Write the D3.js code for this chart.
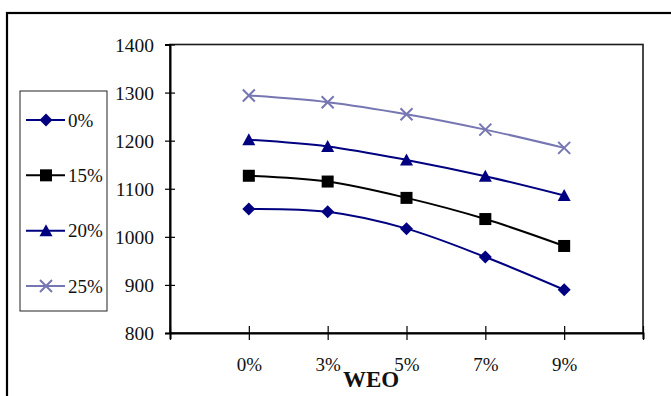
<!DOCTYPE html>
<html>
<head>
<meta charset="utf-8">
<script src="https://cdn.jsdelivr.net/npm/d3@7"></script>
<style>
  html, body { margin: 0; padding: 0; background: #fff; }
  svg { display: block; }
  text { font-family: "Liberation Serif", "Times New Roman", serif; fill: #111; }
</style>
</head>
<body>
<svg id="chart" width="671" height="396"></svg>
<script>
// WEO levels on the x axis
const categories = ["0%", "3%", "5%", "7%", "9%"];
// series names
const seriesNames = ["0%", "15%", "20%", "25%"];
// values per series, one per WEO level
const values0  = [1058, 1052, 1017, 958, 890];
const values15 = [1127, 1115, 1081, 1037, 981];
const values20 = [1202, 1188, 1160, 1126, 1086];
const values25 = [1294, 1280, 1255, 1223, 1185];
const yTicks = [800, 900, 1000, 1100, 1200, 1300, 1400];
const xTitle = "WEO";

const seriesValues = [values0, values15, values20, values25];
const colors = ["#000080", "#000000", "#000080", "#7676B2"];
const markerTypes = ["diamond", "square", "triangle", "cross"];

const svg = d3.select("#chart");

// outer frame (only top and left edges fall inside the view)
svg.append("rect")
  .attr("x", 7).attr("y", 13).attr("width", 700).attr("height", 420)
  .attr("fill", "none").attr("stroke", "#000").attr("stroke-width", 2.2);

const plot = { left: 170, right: 643, top: 44.5, bottom: 333 };

const x = d3.scaleLinear().domain([-1, categories.length]).range([plot.left, plot.right]);
const y = d3.scaleLinear().domain([800, 1400]).range([plot.bottom, plot.top]);

// plot area frame
svg.append("rect")
  .attr("x", plot.left).attr("y", plot.top)
  .attr("width", plot.right - plot.left).attr("height", plot.bottom - plot.top)
  .attr("fill", "none").attr("stroke", "#1a1a1a").attr("stroke-width", 1.6);

// y axis
const yAxis = svg.append("g")
  .attr("transform", `translate(${plot.left},0)`)
  .call(d3.axisLeft(y).tickValues(yTicks).tickFormat(d3.format("d")).tickSize(5).tickPadding(11));
yAxis.select(".domain").attr("stroke", "#000").attr("stroke-width", 2);
yAxis.selectAll(".tick line").attr("x1", 5).attr("x2", -5).attr("stroke", "#000").attr("stroke-width", 1.2);
yAxis.selectAll(".tick text")
  .attr("font-size", 19.5).attr("font-family", "Liberation Serif").attr("fill", "#222")
  .attr("dy", "0.34em");

// x axis
const xAxis = svg.append("g")
  .attr("transform", `translate(0,${plot.bottom})`)
  .call(d3.axisBottom(x)
    .tickValues(d3.range(-1, categories.length + 1))
    .tickFormat(i => categories[i] || "")
    .tickSize(6).tickPadding(19));
xAxis.select(".domain").attr("stroke", "#000").attr("stroke-width", 2);
xAxis.selectAll(".tick line").attr("y1", -7).attr("y2", 7).attr("stroke", "#000").attr("stroke-width", 1.2);
xAxis.selectAll(".tick text")
  .attr("font-size", 19).attr("font-family", "Liberation Serif").attr("fill", "#222");

// x axis title
svg.append("text")
  .attr("x", 371).attr("y", 387)
  .attr("text-anchor", "middle")
  .attr("font-size", 23).attr("font-weight", "bold")
  .attr("fill", "#000")
  .text(xTitle);

// marker drawing
function drawMarker(g, type, color, cx, cy) {
  if (type === "diamond") {
    const r = 6.5;
    g.append("path")
      .attr("d", `M${cx},${cy - r}L${cx + r},${cy}L${cx},${cy + r}L${cx - r},${cy}Z`)
      .attr("fill", color);
  } else if (type === "square") {
    const s = 12;
    g.append("rect").attr("x", cx - s / 2).attr("y", cy - s / 2)
      .attr("width", s).attr("height", s).attr("fill", color);
  } else if (type === "triangle") {
    const r = 6.5;
    g.append("path")
      .attr("d", `M${cx},${cy - r}L${cx + r},${cy + r * 0.85}L${cx - r},${cy + r * 0.85}Z`)
      .attr("fill", color);
  } else {
    const r = 6;
    g.append("path")
      .attr("d", `M${cx - r},${cy - r}L${cx + r},${cy + r}M${cx - r},${cy + r}L${cx + r},${cy - r}`)
      .attr("stroke", color).attr("stroke-width", 2).attr("fill", "none");
  }
}

// smoothed series lines and markers
const line = d3.line()
  .x((d, i) => x(i))
  .y(d => y(d))
  .curve(d3.curveCatmullRom.alpha(0.5));

seriesValues.forEach((vals, s) => {
  const g = svg.append("g");
  g.append("path")
    .attr("d", line(vals))
    .attr("fill", "none")
    .attr("stroke", colors[s])
    .attr("stroke-width", 2);
  vals.forEach((v, i) => drawMarker(g, markerTypes[s], colors[s], x(i), y(v)));
});

// legend
const legend = svg.append("g");
legend.append("rect")
  .attr("x", 20).attr("y", 91).attr("width", 87).attr("height", 220)
  .attr("fill", "#fff").attr("stroke", "#222").attr("stroke-width", 1);

const legendY = d3.scalePoint().domain(seriesNames).range([120, 286]);
seriesNames.forEach((name, s) => {
  const ly = legendY(name);
  const g = legend.append("g");
  g.append("line")
    .attr("x1", 26).attr("x2", 65).attr("y1", ly).attr("y2", ly)
    .attr("stroke", colors[s]).attr("stroke-width", 2);
  drawMarker(g, markerTypes[s], colors[s], 46, ly);
  g.append("text")
    .attr("x", 68).attr("y", ly).attr("dy", "0.35em")
    .attr("font-size", 19).attr("fill", "#222")
    .text(name);
});
</script>
</body>
</html>
